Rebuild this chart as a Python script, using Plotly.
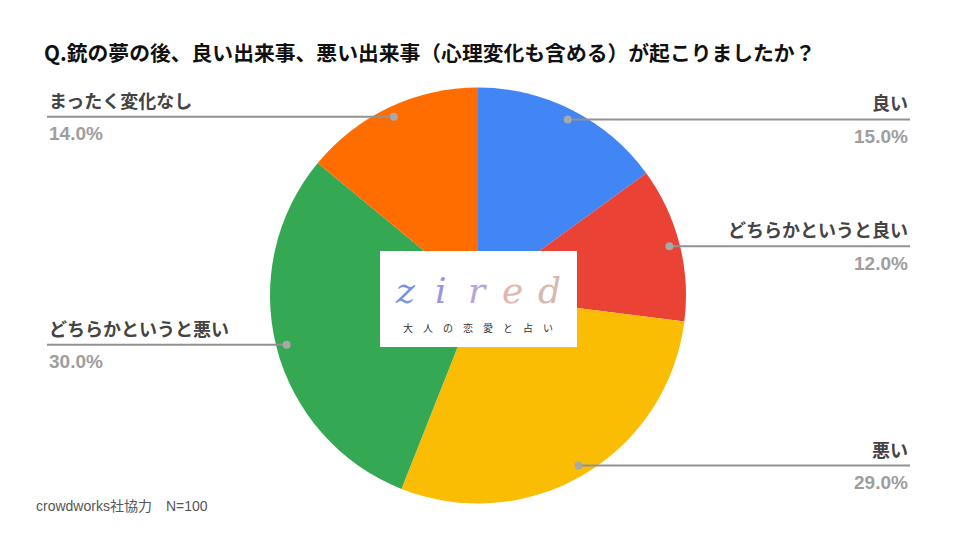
import math
import plotly.graph_objects as go

# ---- data ----
title = "Q.銃の夢の後、良い出来事、悪い出来事（心理変化も含める）が起こりましたか？"
categories = ["良い", "どちらかというと良い", "悪い", "どちらかというと悪い", "まったく変化なし"]
values = [15, 12, 29, 30, 14]
colors = ["#4285F4", "#EA4335", "#FBBC04", "#34A853", "#FF6D01"]
footer = "crowdworks社協力　N=100"
logo_letters = ["z", "i", "r", "e", "d"]
logo_colors = ["#7F90E2", "#9C94E0", "#B8A6D6", "#E2B7AE", "#D6B9AE"]
logo_sub = "大　人　の　恋　愛　と　占　い"

W, H = 960, 540
OFF = 8  # page body margin offset
CX, CY, R = 478, 295.5, 208

def px(x):
    return (x - OFF) / W

def py(y):
    return 1 - (y - OFF) / H

fig = go.Figure(go.Pie(
    labels=categories, values=values, sort=False, direction="clockwise", rotation=0,
    marker=dict(colors=colors, line=dict(width=0)),
    textinfo="none", hoverinfo="label+percent", showlegend=False,
    domain=dict(x=[px(CX - R), px(CX + R)], y=[py(CY + R), py(CY - R)]),
))

shapes = []
annotations = []
total = sum(values)
cum = 0
LEFT_X, RIGHT_X = 47, 910
for cat, v in zip(categories, values):
    mid = (cum + v / 2) / total * 2 * math.pi
    cum += v
    dx = math.sin(mid) * R * 0.95
    dy = -math.cos(mid) * R * 0.95
    dotx, doty = CX + dx, CY + dy
    right = dx >= 0
    endx = RIGHT_X if right else LEFT_X
    shapes.append(dict(type="line", xref="paper", yref="paper",
                       x0=px(dotx), y0=py(doty), x1=px(endx), y1=py(doty),
                       line=dict(color="#929292", width=2)))
    shapes.append(dict(type="circle", xref="paper", yref="paper",
                       x0=px(dotx - 4), x1=px(dotx + 4), y0=py(doty - 4), y1=py(doty + 4),
                       fillcolor="#A8A8A8", line=dict(width=0)))
    anchor = "right" if right else "left"
    annotations.append(dict(text=f"<b>{cat}</b>", xref="paper", yref="paper",
                            x=px(endx), y=py(doty - 17), xanchor=anchor, yanchor="middle",
                            showarrow=False,
                            font=dict(family="Noto Sans CJK JP", size=18, color="#444444")))
    annotations.append(dict(text=f"<b>{v / total * 100:.1f}%</b>", xref="paper", yref="paper",
                            x=px(endx), y=py(doty + 17), xanchor=anchor, yanchor="middle",
                            showarrow=False,
                            font=dict(family="Liberation Sans", size=19, color="#9E9E9E")))

# logo box
BX0, BX1, BY0, BY1 = 380, 577, 251, 347
shapes.append(dict(type="rect", xref="paper", yref="paper",
                   x0=px(BX0), x1=px(BX1), y0=py(BY1), y1=py(BY0),
                   fillcolor="white", line=dict(width=0), layer="above"))
for i, (ch, c) in enumerate(zip(logo_letters, logo_colors)):
    annotations.append(dict(text=f"<i>{ch}</i>", xref="paper", yref="paper",
                            x=px(405 + i * 36), y=py(290), xanchor="center", yanchor="middle",
                            showarrow=False,
                            font=dict(family="DejaVu Serif", size=36, color=c)))
annotations.append(dict(text=logo_sub, xref="paper", yref="paper",
                        x=px(478), y=py(327), xanchor="center", yanchor="middle",
                        showarrow=False,
                        font=dict(family="Noto Sans CJK JP", size=10, color="#333333")))

# title and footer
annotations.append(dict(text=f"<b>{title}</b>", xref="paper", yref="paper",
                        x=px(42), y=py(52), xanchor="left", yanchor="middle", showarrow=False,
                        font=dict(family="Noto Sans CJK JP", size=20.8, color="#111111")))
annotations.append(dict(text=footer, xref="paper", yref="paper",
                        x=px(34), y=py(506), xanchor="left", yanchor="middle", showarrow=False,
                        font=dict(family="Liberation Sans, Noto Sans CJK JP", size=14, color="#555555")))

fig.update_layout(width=W, height=H, margin=dict(l=0, r=0, t=0, b=0),
                  paper_bgcolor="white", plot_bgcolor="white",
                  shapes=shapes, annotations=annotations)
fig.write_html("out.html")
